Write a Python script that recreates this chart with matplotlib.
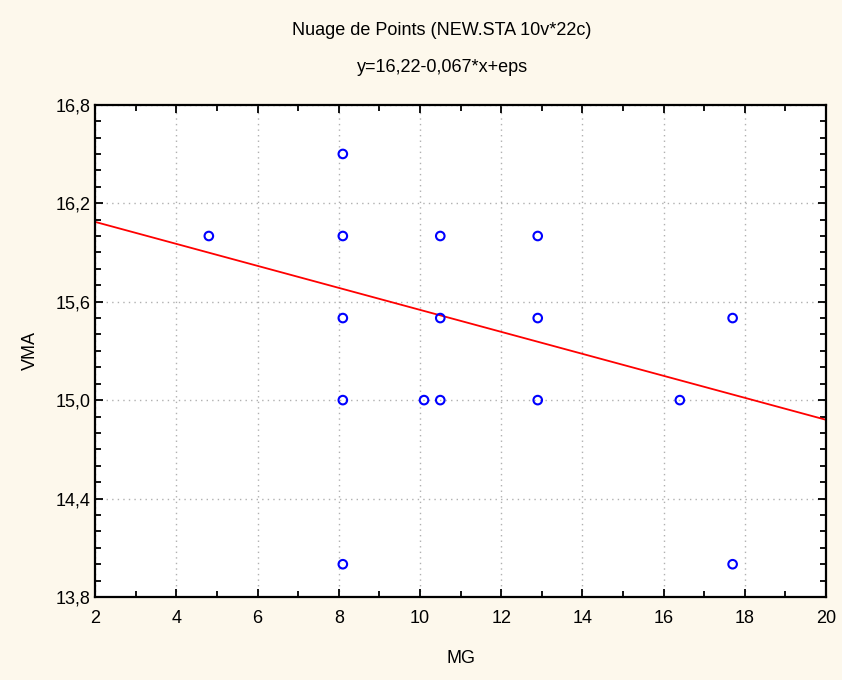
import matplotlib
matplotlib.use("Agg")
import matplotlib.pyplot as plt
from matplotlib.ticker import MultipleLocator, FuncFormatter
import numpy as np

plt.rcParams['font.family'] = ['Liberation Sans', 'DejaVu Sans']

# points (overlapping cases only show once)
mg = [4.8, 8.1, 8.1, 8.1, 8.1, 8.1, 10.5, 10.5, 10.1, 10.5, 12.9, 12.9, 12.9, 16.4, 17.7, 17.7]
vma = [16.0, 16.5, 16.0, 15.5, 15.0, 14.0, 16.0, 15.5, 15.0, 15.0, 16.0, 15.5, 15.0, 15.0, 15.5, 14.0]

# regression from the subtitle
b0 = 16.22
b1 = -0.067

bg = '#fdf8ec'
fig = plt.figure(figsize=(8.42, 6.80), dpi=100, facecolor=bg)
ax = fig.add_axes([0.113, 0.122, 0.868, 0.724])
ax.set_facecolor('white')

xl = np.array([2, 20])
ax.plot(xl, b0 + b1 * xl, color='red', lw=1.3, zorder=2)
ax.scatter(mg, vma, s=38, facecolors='none', edgecolors='blue', linewidths=1.5, zorder=3)

ax.set_xlim(2, 20)
ax.set_ylim(13.8, 16.8)
ax.xaxis.set_major_locator(MultipleLocator(2))
ax.xaxis.set_minor_locator(MultipleLocator(1))
ax.yaxis.set_major_locator(MultipleLocator(0.6))
ax.yaxis.set_minor_locator(MultipleLocator(0.1))
ax.yaxis.set_major_formatter(FuncFormatter(lambda v, p: ('%.1f' % v).replace('.', ',')))

ax.grid(True, which='major', color='#b0b0b0', linestyle=(0, (1, 3)), lw=1)
ax.tick_params(which='both', direction='in', top=True, right=True, labelsize=13, colors='black')
ax.tick_params(which='major', length=6, width=1.3)
ax.tick_params(which='minor', length=4, width=1.3)
ax.tick_params(axis='x', pad=9)
for s in ax.spines.values():
    s.set_linewidth(1.6)

ax.set_xlabel('MG', fontsize=13, labelpad=17)
ax.set_ylabel('VMA', fontsize=13, labelpad=12)

fig.text(0.525, 0.955, 'Nuage de Points (NEW.STA 10v*22c)', ha='center', va='center', fontsize=13)
fig.text(0.525, 0.901, 'y=16,22-0,067*x+eps', ha='center', va='center', fontsize=13)

fig.savefig('out.png', dpi=100, facecolor=bg)
